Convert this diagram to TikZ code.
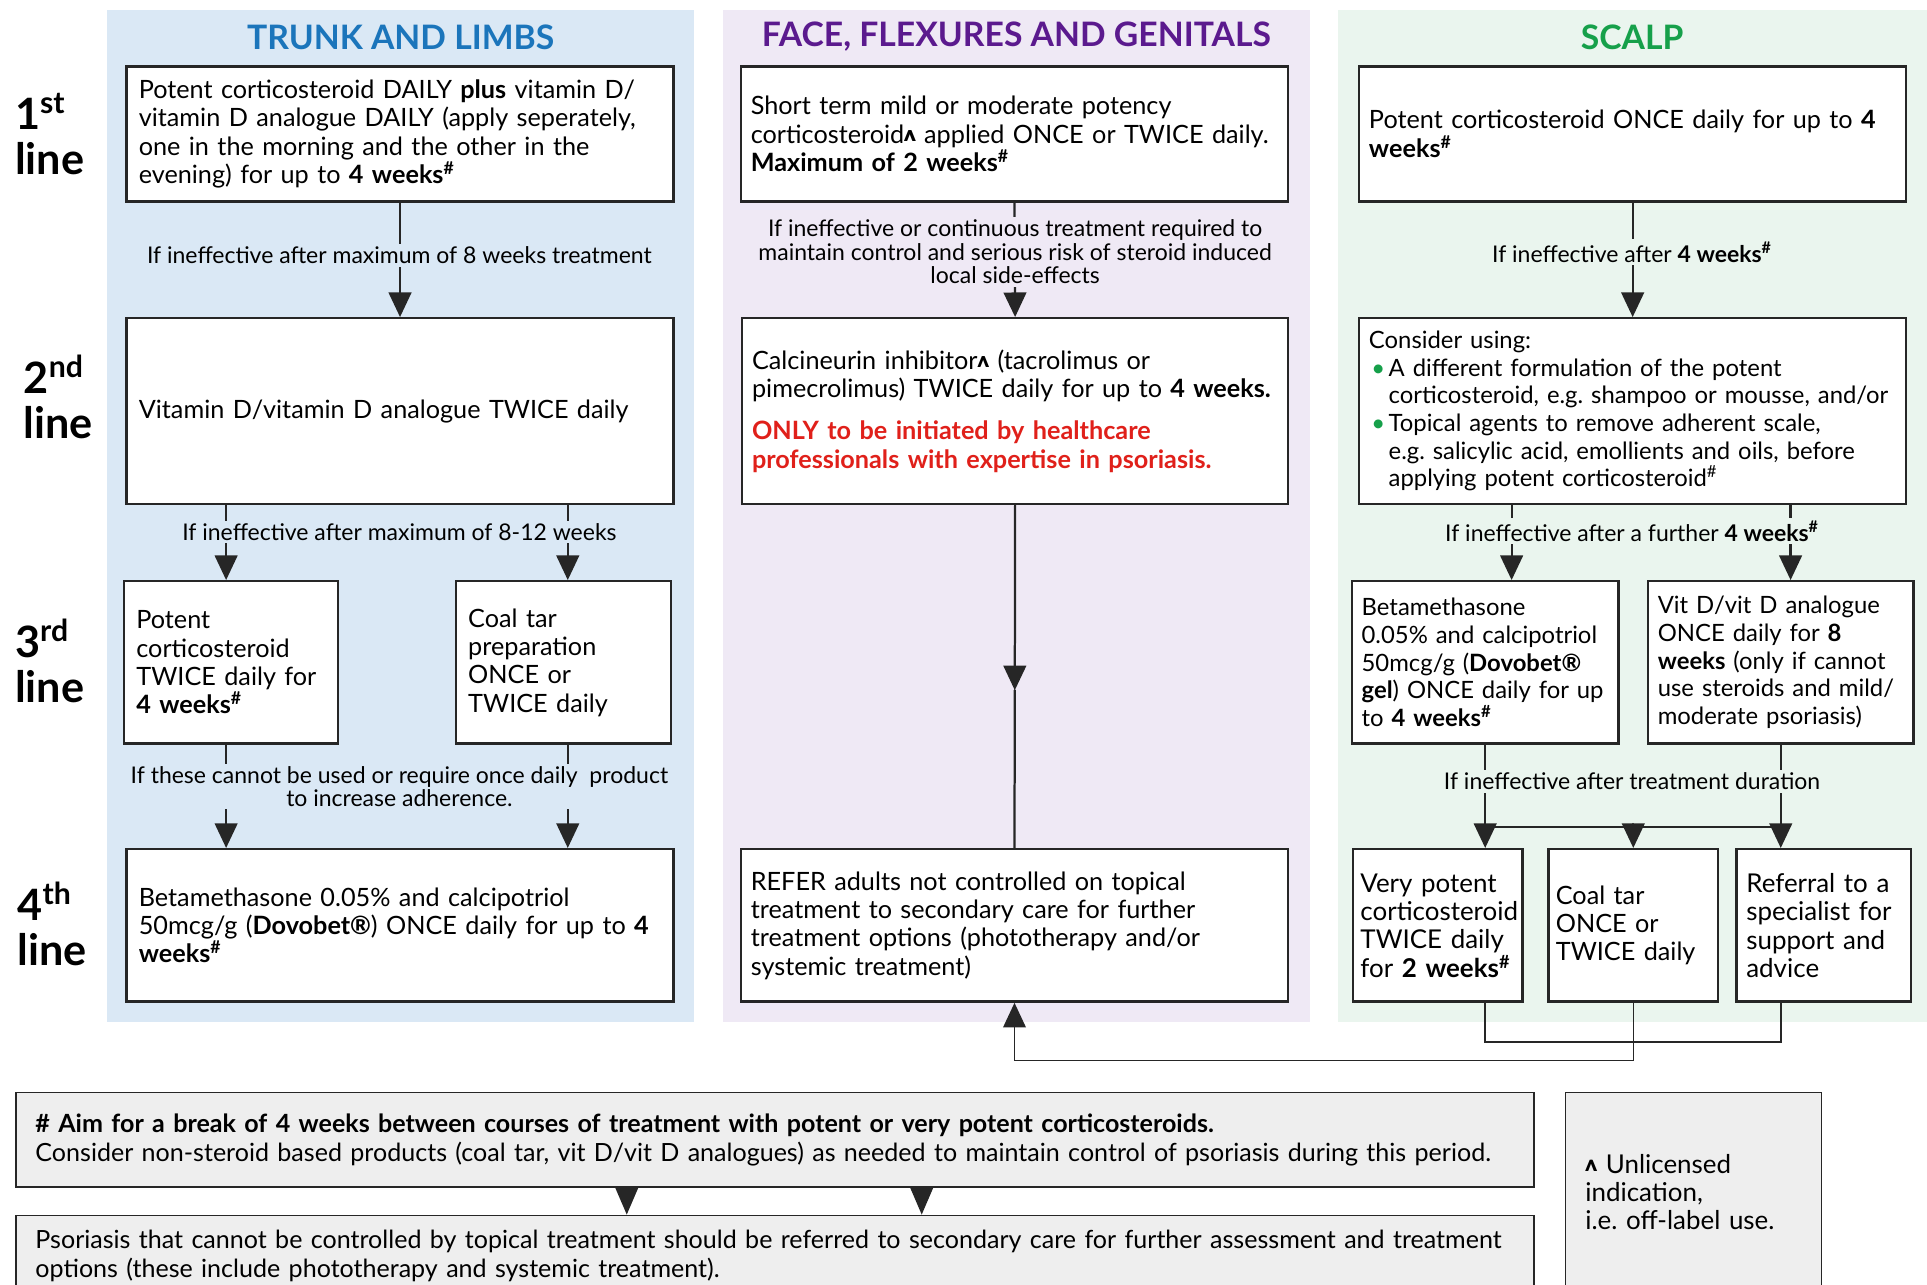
\documentclass[tikz,border=0pt]{standalone}
\usepackage{fontspec}
\setmainfont{Lato}
\usetikzlibrary{arrows.meta,calc}
\hyphenpenalty=10000
\exhyphenpenalty=10000

\definecolor{trunkbg}{HTML}{DAE8F5}
\definecolor{facebg}{HTML}{EFE9F5}
\definecolor{scalpbg}{HTML}{EAF5EE}
\definecolor{trunkhd}{HTML}{1B75BB}
\definecolor{facehd}{HTML}{5B1A8E}
\definecolor{scalphd}{HTML}{16A04A}
\definecolor{alertred}{HTML}{E0201A}
\definecolor{boxline}{HTML}{262626}
\definecolor{notebg}{HTML}{EEEEEE}

\newcommand{\boxfont}{\fontsize{14.6}{16.4}\selectfont}
\newcommand{\smallboxfont}{\fontsize{13.8}{16}\selectfont}
\newcommand{\bigboxfont}{\fontsize{15}{16.4}\selectfont}
\newcommand{\cuefont}{\fontsize{13.3}{13.6}\selectfont}
\newcommand{\headfont}{\fontsize{19.5}{22}\selectfont\bfseries}
\newcommand{\rowfont}{\fontsize{25}{26}\selectfont\bfseries}
\newcommand{\notefont}{\fontsize{14.5}{16.4}\selectfont}
\newcommand{\sharpnote}{\textsuperscript{\#}}
\newcommand{\unlic}{\raisebox{0.08em}{\bfseries\scalebox{0.6}{\rlap{Λ}\kern0.07em Λ}}}
\newcommand{\greenbullet}{\makebox[0.4cm][l]{\hspace{0.05cm}\textcolor{scalphd}{\textbullet}}}

\begin{document}
\begin{tikzpicture}[x=0.025cm,y=-0.025cm,line cap=round,
  >={Triangle[length=0.5cm,width=0.46cm]},
  box/.style={draw=boxline,line width=1.4pt,fill=white,align=left,inner xsep=0.25cm,inner ysep=0pt,font=\boxfont},
  cue/.style={fill=#1,align=center,font=\cuefont,inner sep=1.5pt},
  head/.style={font=\headfont,text=#1},
  row/.style={font=\rowfont,align=left,anchor=west,inner sep=0pt},
  link/.style={line width=1.3pt,draw=boxline},
  thinlink/.style={line width=0.9pt,draw=boxline},
  note/.style={draw=boxline,line width=0.9pt,fill=notebg,align=left,font=\notefont,inner xsep=0.4cm,inner ysep=0pt}]
\useasboundingbox (0,0) rectangle (1568,1045);
\clip (0,0) rectangle (1568,1045);

% columns
\fill[trunkbg] (87,8) rectangle (565,832);
\fill[facebg] (588,8) rectangle (1066,832);
\fill[scalpbg] (1089,8) rectangle (1568,832);
\node[head=trunkhd] (hTrunk) at (326,30) {TRUNK AND LIMBS};
\node[head=facehd] (hFace) at (827,30) {FACE, FLEXURES AND GENITALS};
\node[head=scalphd] (hScalp) at (1328,30) {SCALP};

% lines of treatment
\node[row] (r1) at (12,109) {1\textsuperscript{st}\\line};
\node[row] (r2) at (19,323) {2\textsuperscript{nd}\\line};
\node[row] (r3) at (12,538) {3\textsuperscript{rd}\\line};
\node[row] (r4) at (14,752) {4\textsuperscript{th}\\line};

% trunk and limbs
\node[box,text width=10.625cm,minimum height=2.75cm] (t1) at (325.5,109)
  {Potent corticosteroid DAILY \textbf{plus} vitamin D/\\vitamin D analogue DAILY (apply seperately,\\one in the morning and the other in the\\evening) for up to \textbf{4 weeks\sharpnote}};
\node[box,text width=10.625cm,minimum height=3.775cm] (t2) at (325.5,334.5)
  {Vitamin D/vitamin D analogue TWICE daily};
\node[box,text width=3.85cm,minimum height=3.3cm] (t3a) at (188,539)
  {Potent\\corticosteroid\\TWICE daily for\\\textbf{4 weeks\sharpnote}};
\node[box,text width=3.875cm,minimum height=3.3cm] (t3b) at (458.5,539)
  {Coal tar\\preparation\\ONCE or\\TWICE daily};
\node[box,text width=10.625cm,minimum height=3.1cm] (t4) at (325.5,753)
  {Betamethasone 0.05\% and calcipotriol\\50mcg/g (\textbf{Dovobet®}) ONCE daily for up to \textbf{4}\\\textbf{weeks\sharpnote}};

% face, flexures and genitals
\node[box,inner xsep=0.2cm,text width=10.725cm,minimum height=2.75cm] (f1) at (825.5,109)
  {Short term mild or moderate potency\\corticosteroid\unlic{} applied ONCE or TWICE daily.\\\textbf{Maximum of 2 weeks\sharpnote}};
\node[box,inner xsep=0.2cm,text width=10.7cm,minimum height=3.775cm] (f2) at (826,334.5)
  {Calcineurin inhibitor\unlic{} (tacrolimus or\\pimecrolimus) TWICE daily for up to \textbf{4 weeks.}\\[0.275cm]
   \textcolor{alertred}{\textbf{ONLY to be initiated by healthcare}}\\\textcolor{alertred}{\textbf{professionals with expertise in psoriasis.}}};
\node[box,inner xsep=0.2cm,text width=10.725cm,minimum height=3.1cm] (f4) at (825.5,753)
  {REFER adults not controlled on topical\\treatment to secondary care for further\\treatment options (phototherapy and/or\\systemic treatment)};

% scalp
\node[box,inner xsep=0.2cm,text width=10.725cm,minimum height=2.75cm] (s1) at (1328.5,109)
  {Potent corticosteroid ONCE daily for up to \textbf{4}\\\textbf{weeks\sharpnote}};
\node[box,font=\smallboxfont,inner xsep=0.2cm,text width=10.725cm,minimum height=3.775cm] (s2) at (1328.5,334.5)
  {Consider using:\\\greenbullet A different formulation of the potent\\\hspace*{0.4cm}corticosteroid, e.g.\ shampoo or mousse, and/or\\
   \greenbullet Topical agents to remove adherent scale,\\\hspace*{0.4cm}e.g.\ salicylic acid, emollients and oils, before\\\hspace*{0.4cm}applying potent corticosteroid\sharpnote};
\node[box,font=\smallboxfont,inner xsep=0.2cm,text width=5.025cm,minimum height=3.3cm] (s3a) at (1208.5,539)
  {Betamethasone\\0.05\% and calcipotriol\\50mcg/g (\textbf{Dovobet®}\\\textbf{gel}) ONCE daily for up\\to \textbf{4 weeks\sharpnote}};
\node[box,font=\smallboxfont,inner xsep=0.2cm,text width=5cm,minimum height=3.3cm] (s3b) at (1449,539)
  {Vit D/vit D analogue\\ONCE daily for \textbf{8}\\\textbf{weeks} (only if cannot\\use steroids and mild/\\moderate psoriasis)};
\node[box,font=\bigboxfont,inner xsep=0.15cm,text width=3.15cm,minimum height=3.1cm] (s4a) at (1170,753)
  {Very potent\\corticosteroid\\TWICE daily\\for \textbf{2 weeks\sharpnote}};
\node[box,inner xsep=0.15cm,text width=3.15cm,minimum height=3.1cm] (s4b) at (1329,753)
  {Coal tar\\ONCE or\\TWICE daily};
\node[box,font=\bigboxfont,inner xsep=0.2cm,text width=3.15cm,minimum height=3.1cm] (s4c) at (1484,753)
  {Referral to a\\specialist for\\support and\\advice};

% connectors
\coordinate (tL) at (184,0);
\coordinate (tR) at (462,0);
\draw[link,->] (t1.south) -- (t2.north);
\draw[link,->] (t2.south -| tL) -- (t3a.north -| tL);
\draw[link,->] (t2.south -| tR) -- (t3b.north -| tR);
\draw[link,->] (t3a.south -| tL) -- (t4.north -| tL);
\draw[link,->] (t3b.south -| tR) -- (t4.north -| tR);

\coordinate (fmid) at ($(f2.south)!0.54!(f4.north)$);
\draw[link,->] (f1.south) -- (f2.north);
\draw[link,->] (f2.south) -- (fmid);
\draw[link] (fmid) -- (f4.north);

\coordinate (sL) at (1230,0);
\coordinate (sR) at (1457,0);
\coordinate (bar) at (1328,673);
\draw[link,->] (s1.south) -- (s2.north);
\draw[link,->] (s2.south -| sL) -- (s3a.north -| sL);
\draw[link,->] (s2.south -| sR) -- (s3b.north -| sR);
\draw[link,->] (s3a.south) -- (s4a.north -| s3a.south);
\draw[link,->] (s3b.south) -- (s4c.north -| s3b.south);
\draw[link] (bar -| s3a.south) -- (bar -| s3b.south);
\draw[link,->] (bar -| s4b) -- (s4b.north);

\coordinate (jn) at (0,848);
\coordinate (rt) at (0,863);
\draw[thinlink] (s4a.south -| s3a.south) |- (jn -| s3b.south) -- (s4c.south -| s3b.south);
\draw[thinlink,->] (s4b.south) |- (rt -| f4) -- (f4.south);

% connector texts
\node[cue=trunkbg] (c1) at (325,208) {If ineffective after maximum of 8 weeks treatment};
\node[cue=trunkbg] (c2) at (325,433) {If ineffective after maximum of 8-12 weeks};
\node[cue=trunkbg] (c3) at (325,640) {If these cannot be used or require once daily\ \ product\\to increase adherence.};
\node[cue=facebg] (c4) at (826,205) {If ineffective or continuous treatment required to\\maintain control and serious risk of steroid induced\\local side-effects};
\node[cue=scalpbg] (c5) at (1328,205) {If ineffective after \textbf{4 weeks\sharpnote}};
\node[cue=scalpbg] (c6) at (1328,432) {If ineffective after a further \textbf{4 weeks\sharpnote}};
\node[cue=scalpbg] (c7) at (1328,636) {If ineffective after treatment duration};

% footnotes
\node[note,text width=30.075cm,minimum height=1.925cm] (aim) at (630.5,927.5)
  {\textbf{\# Aim for a break of 4 weeks between courses of treatment with potent or very potent corticosteroids.}\\Consider non-steroid based products (coal tar, vit D/vit D analogues) as needed to maintain control of psoriasis during this period.};
\node[note,text width=30.075cm,minimum height=1.65cm] (psor) at (630.5,1022)
  {Psoriasis that cannot be controlled by topical treatment should be referred to secondary care for further assessment and treatment\\options (these include phototherapy and systemic treatment).};
\node[note,font=\bigboxfont,text width=4.4cm,minimum height=4.05cm] (unl) at (1378,970)
  {\unlic{} Unlicensed\\indication,\\i.e.\ off-label use.};
\coordinate (aL) at (510,0);
\coordinate (aR) at (750,0);
\draw[link,-{Triangle[length=0.55cm,width=0.46cm]}] (aim.south -| aL) -- (psor.north -| aL);
\draw[link,-{Triangle[length=0.55cm,width=0.46cm]}] (aim.south -| aR) -- (psor.north -| aR);
\end{tikzpicture}
\end{document}
